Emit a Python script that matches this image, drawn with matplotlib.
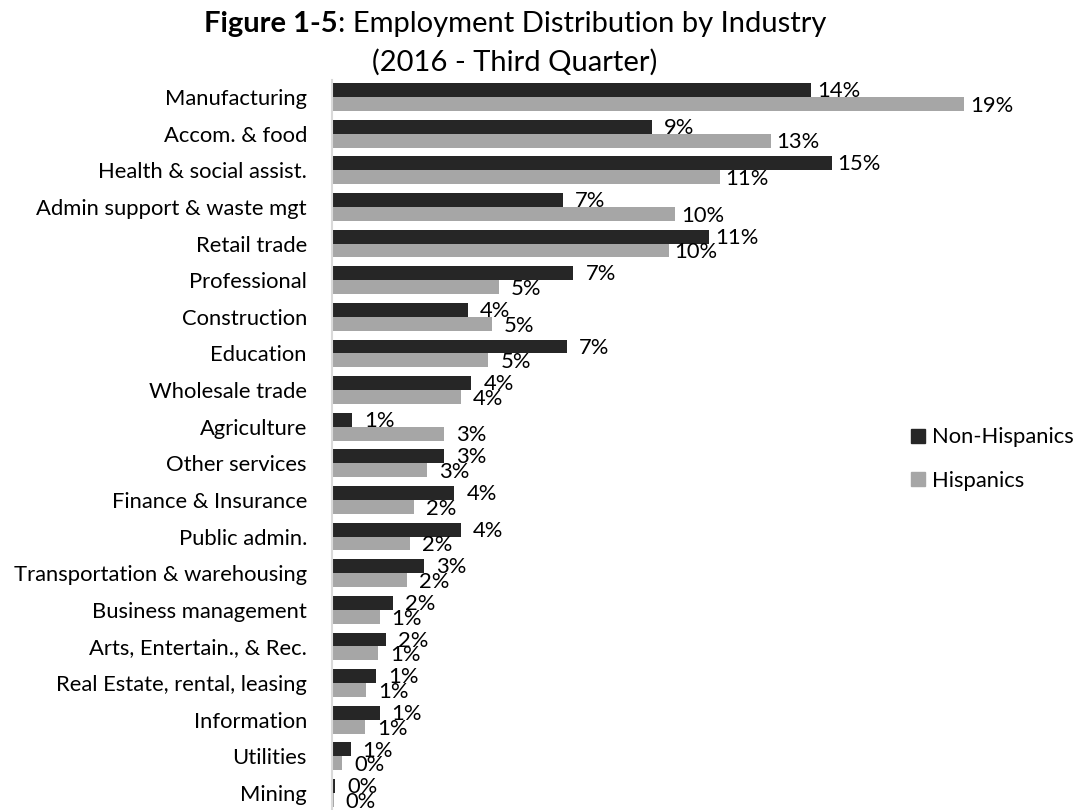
import matplotlib
matplotlib.use("Agg")
from matplotlib import pyplot as plt
from matplotlib.patches import Patch
import numpy as np

plt.rcParams['font.family'] = ['Lato', 'DejaVu Sans']

industries = ["Manufacturing", "Accom. & food", "Health & social assist.",
              "Admin support & waste mgt", "Retail trade", "Professional",
              "Construction", "Education", "Wholesale trade", "Agriculture",
              "Other services", "Finance & Insurance", "Public admin.",
              "Transportation & warehousing", "Business management",
              "Arts, Entertain., & Rec.", "Real Estate, rental, leasing",
              "Information", "Utilities", "Mining"]
non_hispanics = [14.1, 9.4, 14.7, 6.8, 11.1, 7.1, 4.0, 6.9, 4.1, 0.6,
                 3.3, 3.6, 3.8, 2.7, 1.8, 1.6, 1.3, 1.4, 0.55, 0.1]
hispanics = [18.6, 12.9, 11.4, 10.1, 9.9, 4.9, 4.7, 4.6, 3.8, 3.3,
             2.8, 2.4, 2.3, 2.2, 1.4, 1.35, 1.0, 0.97, 0.3, 0.05]

dark = "#262626"
light = "#a6a6a6"
fs = 15.8
title_fs = 21

W, H = 1073, 810
fig = plt.figure(figsize=(W / 100, H / 100), dpi=100)
# axes placed in pixel terms: left edge at the axis line
ax = fig.add_axes([332 / W, 0, 680 / W, 1 - 80 / H])

y = np.arange(len(industries))
bh = 0.38
ax.barh(y - bh / 2, non_hispanics, height=bh, color=dark)
ax.barh(y + bh / 2, hispanics, height=bh, color=light)

for i in range(len(industries)):
    ax.text(non_hispanics[i] + 0.8, y[i] - bh / 2 + 0.03, f"{non_hispanics[i]:.0f}%",
            ha="center", va="center", fontsize=fs, color="black")
    ax.text(hispanics[i] + 0.8, y[i] + bh / 2 + 0.05, f"{hispanics[i]:.0f}%",
            ha="center", va="center", fontsize=fs, color="black")

ax.set_xlim(0, 20)
ax.set_ylim(len(industries) - 1 + 0.464, -0.464)
ax.set_yticks(y)
ax.set_yticklabels(industries, fontsize=fs)
ax.tick_params(axis="y", length=0, pad=18)
ax.set_xticks([])
for s in ["top", "right", "bottom"]:
    ax.spines[s].set_visible(False)
ax.spines["left"].set_color("#d9d9d9")
ax.spines["left"].set_linewidth(1.5)
ax.set_facecolor("none")

handles = [Patch(color=dark), Patch(color=light)]
fig.legend(handles, ["Non-Hispanics", "Hispanics"], loc="center left",
           bbox_to_anchor=(911 / W, 1 - 459 / H), frameon=False, fontsize=fs,
           handlelength=0.64, handleheight=0.64, handletextpad=0.3,
           labelspacing=1.05, borderpad=0, borderaxespad=0)

# title with bold prefix, whole first line centred at x=515
t1 = fig.text(0, 1 - 32 / H, "Figure 1-5", ha="left", va="baseline",
              fontsize=title_fs, fontweight="bold")
t2 = fig.text(0, 1 - 32 / H, ": Employment Distribution by Industry", ha="left",
              va="baseline", fontsize=title_fs)
r = fig.canvas.get_renderer()
w1 = t1.get_window_extent(r).width
w2 = t2.get_window_extent(r).width
x0 = 515 - (w1 + w2) / 2
t1.set_x(x0 / W)
t2.set_x((x0 + w1) / W)
fig.text(515 / W, 1 - 71 / H, "(2016 - Third Quarter)", ha="center", va="baseline",
         fontsize=title_fs)

fig.savefig("out.png", dpi=100)
